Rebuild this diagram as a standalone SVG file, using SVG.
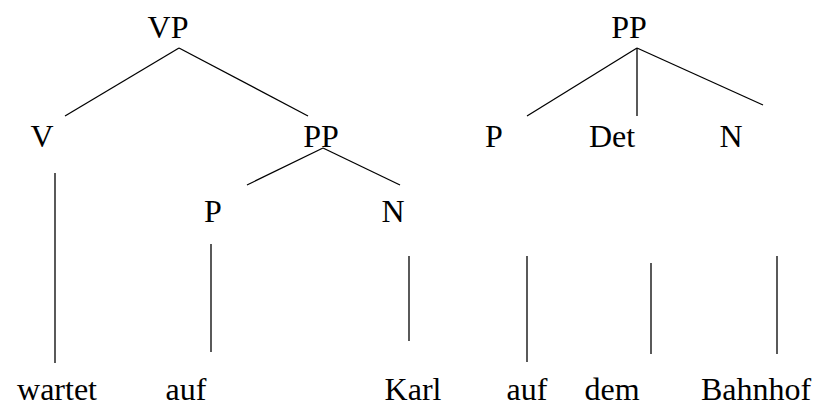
<svg xmlns="http://www.w3.org/2000/svg" width="826" height="412" viewBox="0 0 826 412">
<style>
text{font-family:"Liberation Serif","DejaVu Serif",serif;font-size:32px;fill:#000;text-anchor:middle}
line{stroke:#000;stroke-width:1.3}
</style>
<rect width="826" height="412" fill="#fff"/>
<g id="edges">
<line x1="179" y1="48" x2="65" y2="116"/>
<line x1="179" y1="48" x2="308" y2="116"/>
<line x1="323" y1="148" x2="247" y2="185"/>
<line x1="323" y1="148" x2="400" y2="185"/>
<line x1="55" y1="173" x2="55" y2="363"/>
<line x1="211" y1="244" x2="211" y2="352"/>
<line x1="409" y1="256" x2="409" y2="341"/>
<line x1="637" y1="48" x2="527" y2="116"/>
<line x1="637" y1="48" x2="637" y2="116"/>
<line x1="637" y1="48" x2="763" y2="105"/>
<line x1="527" y1="256" x2="527" y2="362"/>
<line x1="651" y1="263" x2="651" y2="354"/>
<line x1="777" y1="256" x2="777" y2="354"/>
</g>
<g id="VP"><text x="168" y="38">VP</text></g>
<g id="V"><text x="42" y="147">V</text></g>
<g id="PP1"><text x="321" y="147">PP</text></g>
<g id="P1"><text x="213" y="222">P</text></g>
<g id="N1"><text x="393" y="222">N</text></g>
<g id="PP2"><text x="629" y="38">PP</text></g>
<g id="P2"><text x="494" y="147">P</text></g>
<g id="Det"><text x="612" y="147">Det</text></g>
<g id="N2"><text x="731" y="147">N</text></g>
<g id="w1"><text x="57" y="400">wartet</text></g>
<g id="w2"><text x="186" y="400">auf</text></g>
<g id="w3"><text x="413" y="400">Karl</text></g>
<g id="w4"><text x="527" y="400">auf</text></g>
<g id="w5"><text x="612" y="400">dem</text></g>
<g id="w6"><text x="756" y="400">Bahnhof</text></g>
</svg>
